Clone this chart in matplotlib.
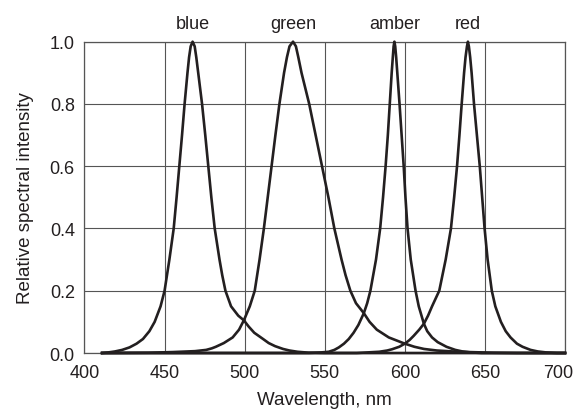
import matplotlib
matplotlib.use("Agg")
import matplotlib.pyplot as plt
from matplotlib.transforms import ScaledTranslation

plt.rcParams['font.family'] = ['Liberation Sans', 'DejaVu Sans']

# ---- data ----
blue_nm = [411, 415, 419, 423.5, 428.1, 432.5, 436.5, 440.5, 443.8, 447.5, 450, 453, 455.7, 457.5,
           459.2, 460.9, 462.5, 464.3, 465.3, 466.3, 467.5, 468.8, 469.8, 471, 473.4, 475.4,
           477.3, 479.2, 481.3, 484.3, 486, 488, 491.5, 496, 499.5, 502.5, 506, 511.5, 515,
           519, 524, 528, 533, 540, 550, 700]
blue_val = [0, 0.002, 0.005, 0.01, 0.018, 0.03, 0.045, 0.07, 0.1, 0.15, 0.2, 0.3, 0.4, 0.5,
            0.6, 0.7, 0.8, 0.9, 0.95, 0.985, 1.0, 0.985, 0.95, 0.9, 0.8, 0.7,
            0.6, 0.5, 0.4, 0.3, 0.25, 0.2, 0.15, 0.12, 0.105, 0.085, 0.065, 0.045, 0.032,
            0.022, 0.013, 0.008, 0.004, 0.001, 0, 0]

green_nm = [411, 440, 455, 469, 476, 479.5, 482, 487, 492.5, 496.5, 499.5, 503.2, 506.3, 509.3,
            512, 514.4, 516.8, 519.2, 521.7, 524.6, 526.4, 528, 530.2, 532, 533.5, 535.5,
            540.3, 544.3, 548.3, 552.3, 556, 560.5, 563, 566, 569.5, 574.4, 578, 582.5, 590,
            600, 606, 612, 620, 630, 640, 655, 670, 700]
green_val = [0, 0.001, 0.003, 0.006, 0.01, 0.015, 0.02, 0.032, 0.05, 0.075, 0.105, 0.15, 0.2, 0.3,
             0.4, 0.5, 0.6, 0.7, 0.8, 0.9, 0.95, 0.985, 1.0, 0.985, 0.95, 0.9,
             0.8, 0.7, 0.6, 0.5, 0.4, 0.3, 0.25, 0.2, 0.16, 0.128, 0.1, 0.075, 0.05,
             0.03, 0.02, 0.013, 0.008, 0.005, 0.003, 0.001, 0, 0]

amber_nm = [411, 540, 548, 552.5, 556, 558.8, 562, 565, 568, 571, 574.4, 576.5, 578.5, 582,
            584.6, 586.4, 588, 589.4, 590.6, 591.8, 592.5, 593, 593.5, 594, 594.6, 595.3,
            596.7, 598, 599.3, 600.4, 601.7, 603.7, 606.7, 608.7, 611.9, 614, 617, 620.5,
            626, 631.5, 636, 641, 648, 700]
amber_val = [0, 0, 0.002, 0.004, 0.01, 0.018, 0.03, 0.045, 0.065, 0.09, 0.128, 0.16, 0.2, 0.3,
             0.4, 0.5, 0.6, 0.7, 0.8, 0.9, 0.95, 0.985, 1.0, 0.985, 0.95, 0.9,
             0.8, 0.7, 0.6, 0.5, 0.4, 0.3, 0.2, 0.15, 0.094, 0.07, 0.05, 0.035,
             0.02, 0.01, 0.005, 0.002, 0, 0]

red_nm = [411, 570, 584, 589, 592, 596.5, 600, 603, 605.5, 609, 611.9, 614.5, 617, 621.5,
          625.5, 628.8, 630.8, 632.6, 634.1, 635.5, 637, 637.9, 638.8, 639.4, 640, 640.8,
          641.7, 643.2, 645, 646.8, 648.3, 649.8, 651.7, 654.3, 656.5, 660, 663, 666, 670,
          673.5, 678.5, 683, 688, 695, 700]
red_val = [0, 0, 0.004, 0.008, 0.012, 0.02, 0.03, 0.042, 0.055, 0.075, 0.094, 0.12, 0.15, 0.2,
           0.3, 0.4, 0.5, 0.6, 0.7, 0.8, 0.9, 0.95, 0.985, 1.0, 0.985, 0.95,
           0.9, 0.8, 0.7, 0.6, 0.5, 0.4, 0.3, 0.2, 0.15, 0.1, 0.07, 0.05, 0.03,
           0.02, 0.01, 0.005, 0.002, 0, 0]

labels = ['blue', 'green', 'amber', 'red']
peaks = [467.5, 530.2, 593.5, 639.4]

x_ticks = [400, 450, 500, 550, 600, 650, 700]
y_ticks = [0.0, 0.2, 0.4, 0.6, 0.8, 1.0]

# ---- figure ----
fig = plt.figure(figsize=(5.74, 4.14), dpi=100)
ax = fig.add_axes([0.1472, 0.1449, 0.8371, 0.752])

line_color = '#231f20'
for xs, ys in [(blue_nm, blue_val), (green_nm, green_val), (amber_nm, amber_val), (red_nm, red_val)]:
    ax.plot(xs, ys, color=line_color, lw=1.9, solid_joinstyle='round', zorder=3, clip_on=False)

for lab, pk in zip(labels, peaks):
    ax.text(pk, 1.058, lab, ha='center', va='center', fontsize=13, color='#231f20')

ax.set_xlim(400, 700)
ax.set_ylim(0, 1.0)
ax.set_xticks(x_ticks)
ax.set_xticklabels([str(v) for v in x_ticks])
ax.set_yticks(y_ticks)
ax.set_yticklabels([f"{v:.1f}" for v in y_ticks])
ax.tick_params(axis='both', length=0, labelsize=13, colors='#231f20')
ax.tick_params(axis='x', pad=8)
ax.tick_params(axis='y', pad=7)

last = ax.get_xticklabels()[-1]
last.set_transform(last.get_transform() + ScaledTranslation(-0.07, 0, fig.dpi_scale_trans))

ax.grid(True, color='#555555', lw=0.8)
ax.set_axisbelow(True)
for s in ax.spines.values():
    s.set_color('#555555')
    s.set_linewidth(0.9)

ax.set_xlabel('Wavelength, nm', fontsize=13.5, color='#231f20', labelpad=7)
ax.set_ylabel('Relative spectral intensity', fontsize=13.5, color='#231f20', labelpad=11)

fig.savefig('out.png', dpi=100)
